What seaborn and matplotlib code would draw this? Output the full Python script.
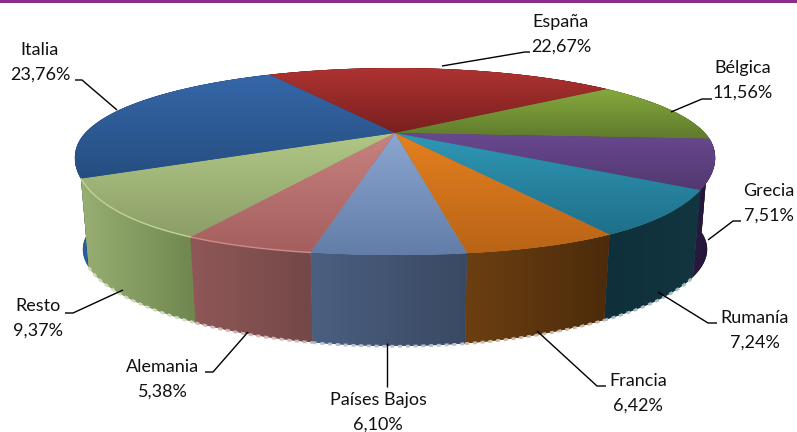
import numpy as np
import matplotlib
matplotlib.use('Agg')
import matplotlib.pyplot as plt
import matplotlib.transforms as mtransforms
from matplotlib.path import Path
from matplotlib.patches import PathPatch
import seaborn as sns

# data
countries = ['España', 'Bélgica', 'Grecia', 'Rumanía', 'Francia', 'Países Bajos', 'Alemania', 'Resto', 'Italia']
shares = [22.67, 11.56, 7.51, 7.24, 6.42, 6.10, 5.38, 9.37, 23.76]

# top face gradient (far edge, near edge) and wall gradient (left, right)
top_colors = [('#ad3331', '#7a1f1f'), ('#85a83d', '#5f7a2c'), ('#69498f', '#523871'),
              ('#2f98b6', '#1f6f89'), ('#e5801f', '#b96417'), ('#8ba6d0', '#627da7'),
              ('#c8827f', '#a35e5e'), ('#b0c785', '#8c9e68'), ('#3567a8', '#254d80')]
wall_colors = [('#7a1f1f', '#7a1f1f'), ('#4c6322', '#4c6322'), ('#2a1a42', '#20132f'),
               ('#0f303b', '#12353f'), ('#6c3f11', '#4c2b0b'), ('#4b5f80', '#3a4963'),
               ('#905757', '#734848'), ('#98ae72', '#6f874f'), ('#2b5c9e', '#1f4a85')]
rim_colors = [None, None, None, None, None, None, '#d08a88', '#c0d396', None]
foot_colors = [None, None, None, '#a9bcc0', '#cdb8a4', '#b5bfd0', '#d3b5b5', '#d0dabf', None]

# label placement, pixels of the 797x432 picture
label_xy = [(561, 22), (743, 68), (769, 191), (755, 318), (638, 381), (378, 400), (163, 367), (38, 306), (40, 50)]
leaders = [[(442, 66), (525, 52), (530, 52)],
           [(671, 112), (702, 99), (712, 99)],
           [(708, 240), (733, 221), (741, 221)],
           [(658, 292), (708, 323), (717, 323)],
           [(537, 331), (597, 386), (606, 386)],
           [(387, 343), (387, 387)],
           [(248, 332), (213, 372), (205, 372)],
           [(123, 290), (73, 313), (65, 313)],
           [(117, 110), (82, 80), (75, 80)]]

CX, CY = 395, 133
WIDE, DEEP = 310, 84.8
TILT_X, TILT_Y = 0.25, 0.305
DROP, SHRINK = 94, 0.975


class Perspective(mtransforms.Transform):
    input_dims = 2
    output_dims = 2
    has_inverse = False
    is_separable = False

    def __init__(self, bulge=0):
        super().__init__()
        self.bulge = bulge

    def transform_non_affine(self, xy):
        xy = np.asarray(xy, dtype=float)
        x, y = xy[:, 0], xy[:, 1]
        sag = self.bulge * x ** 2 * y ** 2 * (y < 0)
        return np.c_[WIDE * x / (1 + TILT_X * y), -DEEP * y / (1 + TILT_Y * y) + sag]


persp = Perspective(30)
persp_foot = Perspective(0)


def rim(proj, theta1, theta2, scale=1.0, drop=0.0):
    t = np.radians(np.linspace(theta1, theta2, 60))
    pts = proj.transform(np.c_[np.cos(t), np.sin(t)])
    return pts * scale + [CX, CY + drop]


def gradient(ax, clip, box, colors, horizontal, z):
    cmap = sns.blend_palette(colors, as_cmap=True)
    ramp = np.linspace(0, 1, 128).reshape(1, -1) if horizontal else np.linspace(0, 1, 128).reshape(-1, 1)
    im = ax.imshow(ramp, cmap=cmap, vmin=0, vmax=1, aspect='auto', zorder=z,
                   extent=(box.x0, box.x1, box.y1, box.y0), interpolation='bilinear')
    im.set_clip_path(clip)


sns.set_theme(style='white')
plt.rcParams['font.family'] = ['Lato', 'DejaVu Sans']

fig, ax = plt.subplots(figsize=(7.97, 4.32), dpi=100)
fig.subplots_adjust(0, 0, 1, 1)

wedges, _ = ax.pie(shares, startangle=119.5, counterclock=False, radius=1,
                   colors=[c[1] for c in top_colors], wedgeprops={'linewidth': 0})
ax.set_aspect('auto')

# side wall first, far slices before near ones
face_tr = persp + mtransforms.Affine2D().translate(CX, CY) + ax.transData
mids = [np.sin(np.radians((w.theta1 + w.theta2) / 2)) for w in wedges]
for i in np.argsort(mids)[::-1]:
    w = wedges[i]
    top = rim(persp, w.theta1, w.theta2)
    bottom = rim(persp_foot, w.theta1, w.theta2, SHRINK, DROP)
    verts = np.vstack([top, bottom[::-1], top[:1]])
    wall = PathPatch(Path(verts, closed=True), fc=wall_colors[i][1], ec='none', zorder=2 + 0.01 * (8 - mids[i]))
    ax.add_patch(wall)
    gradient(ax, wall, Path(verts).get_extents(), wall_colors[i], True, wall.get_zorder() + 0.001)
    if foot_colors[i]:
        ax.plot(bottom[:, 0], bottom[:, 1] + 0.3, color=foot_colors[i], lw=2.0,
                ls=(0, (1.4, 1.4)), zorder=3)

# top face
for i, w in enumerate(wedges):
    w.set_transform(face_tr)
    w.set_zorder(4)
    data_path = (persp + mtransforms.Affine2D().translate(CX, CY)).transform_path(w.get_path())
    gradient(ax, w, data_path.get_extents(), top_colors[i], False, 4.1)
    if rim_colors[i]:
        edge = rim(persp, w.theta1, w.theta2)
        ax.plot(edge[:, 0], edge[:, 1], color=rim_colors[i], lw=1.0, zorder=4.5)

# labels with leader lines
for name, share, (x, y), leader in zip(countries, shares, label_xy, leaders):
    value = f'{share:.2f}'.replace('.', ',') + '%'
    ax.text(x, y, name, ha='center', va='center', fontsize=13, color='#111111', zorder=6)
    ax.text(x, y + 25, value, ha='center', va='center', fontsize=13, color='#111111', zorder=6)
    xs, ys = zip(*leader)
    ax.plot(xs, ys, color='black', lw=1.0, zorder=5, solid_capstyle='butt')

ax.axhspan(0, 3, color='#8b2c88', lw=0, zorder=6)

ax.set_xlim(0, 797)
ax.set_ylim(432, 0)
ax.set_axis_off()
fig.savefig('out.png', dpi=100, facecolor='white')
